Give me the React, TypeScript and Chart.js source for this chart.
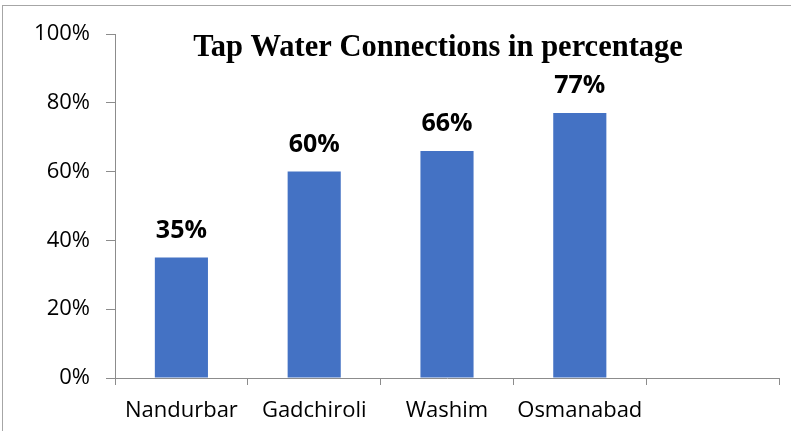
import React, { useEffect, useRef } from "react";
import { Chart, registerables } from "chart.js";

Chart.register(...registerables);

const categories = ["Nandurbar", "Gadchiroli", "Washim", "Osmanabad", ""];
const values: (number | null)[] = [35, 60, 66, 77, null];
const yTicks = [0, 20, 40, 60, 80, 100];
const titleText = "Tap Water Connections in percentage";

const AXIS_COLOR = "#8c8c8c";

const overlayPlugin = {
  id: "overlay",
  afterDatasetsDraw(chart: any) {
    const ctx = chart.ctx;
    const meta = chart.getDatasetMeta(0);
    ctx.save();
    ctx.fillStyle = "#000000";
    ctx.font = 'bold 25px "Open Sans"';
    ctx.textAlign = "center";
    ctx.textBaseline = "alphabetic";
    meta.data.forEach((el: any, i: number) => {
      const v = values[i];
      if (v == null) return;
      ctx.fillText(`${v}%`, el.x, el.y - 20);
    });
    const ca = chart.chartArea;
    ctx.font = 'bold 30.5px "Liberation Serif"';
    ctx.fillText(titleText, (ca.left + ca.right) / 2 - 9, ca.top + 22);
    ctx.restore();
  },
};

export default function App() {
  const ref = useRef<HTMLCanvasElement | null>(null);
  useEffect(() => {
    if (!ref.current) return;
    const chart = new Chart(ref.current, {
      type: "bar",
      data: {
        labels: categories,
        datasets: [
          {
            data: values,
            backgroundColor: "#4472C4",
            barPercentage: 0.4,
            categoryPercentage: 1.0,
          },
        ],
      },
      options: {
        responsive: false,
        animation: false,
        devicePixelRatio: 1,
        layout: { padding: { left: 0, top: 34, right: 12, bottom: 0 } },
        plugins: {
          legend: { display: false },
          title: { display: false },
          tooltip: { enabled: false },
        },
        scales: {
          y: {
            min: 0,
            max: 100,
            afterFit(scale: any) {
              scale.width = 115;
            },
            afterBuildTicks(scale: any) {
              scale.ticks = yTicks.map((v) => ({ value: v }));
            },
            ticks: {
              callback: (v: any) => `${v}%`,
              color: "#000000",
              font: { family: "Open Sans", size: 22 },
              padding: 16,
            },
            grid: {
              drawOnChartArea: false,
              drawTicks: true,
              tickLength: 9,
              color: AXIS_COLOR,
            },
            border: { color: AXIS_COLOR, width: 1 },
          },
          x: {
            afterFit(scale: any) {
              scale.height = 53;
            },
            ticks: {
              color: "#000000",
              font: { family: "Open Sans", size: 22 },
              padding: 13,
              maxRotation: 0,
              autoSkip: false,
            },
            grid: {
              offset: true,
              drawOnChartArea: false,
              drawTicks: true,
              tickLength: 7,
              color: AXIS_COLOR,
            },
            border: { color: AXIS_COLOR, width: 1 },
          },
        },
      },
      plugins: [overlayPlugin],
    });
    return () => chart.destroy();
  }, []);

  return (
    <div style={{ position: "absolute", left: 0, top: 0, width: 791, height: 431, background: "#ffffff" }}>
      <div
        style={{
          position: "absolute",
          left: 2,
          top: 5,
          right: 0,
          bottom: 0,
          borderTop: "1px solid #a6a6a6",
          borderLeft: "1px solid #a6a6a6",
        }}
      />
      <canvas ref={ref} width={791} height={431} style={{ position: "absolute", left: 0, top: 0 }} />
    </div>
  );
}
